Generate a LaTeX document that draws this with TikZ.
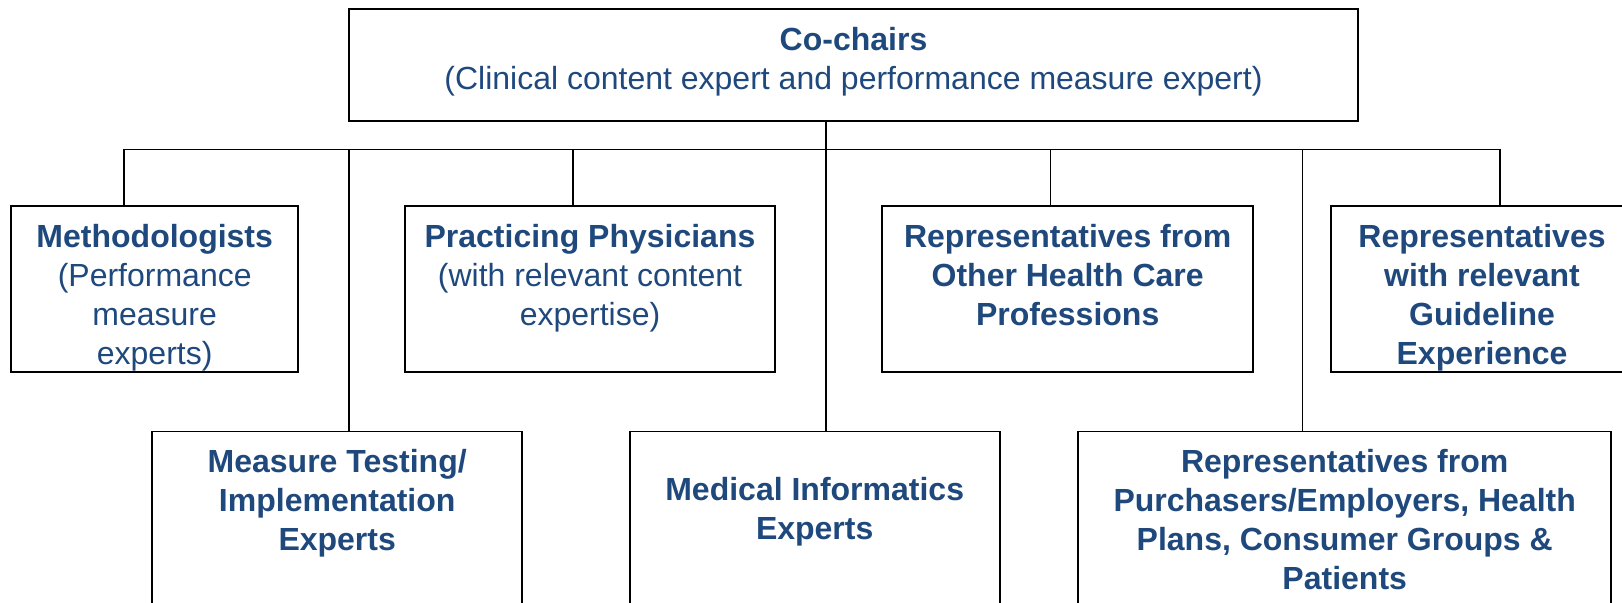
\documentclass[tikz,border=0pt]{standalone}
\usepackage{fontspec}
\setmainfont{Liberation Sans}
\usetikzlibrary{calc}
\definecolor{txtblue}{RGB}{31,73,125}
\begin{document}
\begin{tikzpicture}[x=0.5pt,y=-0.5pt,
  box/.style={draw=black, line width=0.95pt, fill=white, inner sep=0pt},
  conn/.style={draw=black, line width=0.9pt},
  lbl/.style={anchor=north, inner sep=0pt, align=center, text=txtblue,
              font=\fontsize{16}{19.4}\selectfont}
]
\useasboundingbox (0,0) rectangle (1622,602);
\clip (0,0) rectangle (1622,602);

% boxes
\node[box, minimum width=504.5pt, minimum height=56pt] (top) at (853.5,65) {};
\node[box, minimum width=143.3pt, minimum height=83pt] (meth) at (154.7,289) {};
\node[box, minimum width=185.3pt, minimum height=83pt] (prac) at (590,289) {};
\node[box, minimum width=185.3pt, minimum height=83pt] (other) at (1067.7,289) {};
\node[box, minimum width=151pt, minimum height=83pt] (guide) at (1482,289) {};
\node[box, minimum width=185.2pt, minimum height=104.25pt] (mtest) at (337.2,535.75) {};
\node[box, minimum width=185.1pt, minimum height=104.25pt] (medi) at (814.7,535.75) {};
\node[box, minimum width=266.3pt, minimum height=104.25pt] (purch) at (1344.7,535.75) {};

% labels
\node[lbl] (topt) at ($(top.north)+(0,14.5)$) {\rule{0pt}{14pt}\textbf{Co-chairs}\\(Clinical content expert and performance measure expert)};
\node[lbl] (metht) at ($(meth.north)+(0,14.5)$) {\rule{0pt}{14pt}\textbf{Methodologists}\\(Performance\\measure\\experts)};
\node[lbl] (pract) at ($(prac.north)+(0,14.5)$) {\rule{0pt}{14pt}\textbf{Practicing Physicians}\\(with relevant content\\expertise)};
\node[lbl] (othert) at ($(other.north)+(0,14.5)$) {\rule{0pt}{14pt}\textbf{Representatives from}\\\textbf{Other Health Care}\\\textbf{Professions}};
\node[lbl] (guidet) at ($(guide.north)+(0,14.5)$) {\rule{0pt}{14pt}\textbf{Representatives}\\\textbf{with relevant}\\\textbf{Guideline}\\\textbf{Experience}};
\node[lbl] (mtestt) at ($(mtest.north)+(0,14)$) {\rule{0pt}{14pt}\textbf{Measure Testing/}\\\textbf{Implementation}\\\textbf{Experts}};
\node[lbl] (medit) at ($(medi.north)+(0,42)$) {\rule{0pt}{14pt}\textbf{Medical Informatics}\\\textbf{Experts}};
\node[lbl] (purcht) at ($(purch.north)+(0,14)$) {\rule{0pt}{14pt}\textbf{Representatives from}\\\textbf{Purchasers/Employers, Health}\\\textbf{Plans, Consumer Groups \&}\\\textbf{Patients}};

% connectors
\coordinate (j) at (825.7,149.5);
\coordinate (bL) at (124,149.5);
\coordinate (bR) at (1500,149.5);
\coordinate (d2) at (349,149.5);
\coordinate (d3) at (573,149.5);
\coordinate (d5) at (1050.5,149.5);
\coordinate (d6) at (1302.5,149.5);

\draw[conn] (j |- top.south) -- (j);
\draw[conn] (bL |- meth.north) -- (bL) -- (bR) -- (bR |- guide.north);
\draw[conn] (d2) -- (d2 |- mtest.north);
\draw[conn] (d3) -- (d3 |- prac.north);
\draw[conn] (j) -- (j |- medi.north);
\draw[conn] (d5) -- (d5 |- other.north);
\draw[conn] (d6) -- (d6 |- purch.north);
\end{tikzpicture}
\end{document}
